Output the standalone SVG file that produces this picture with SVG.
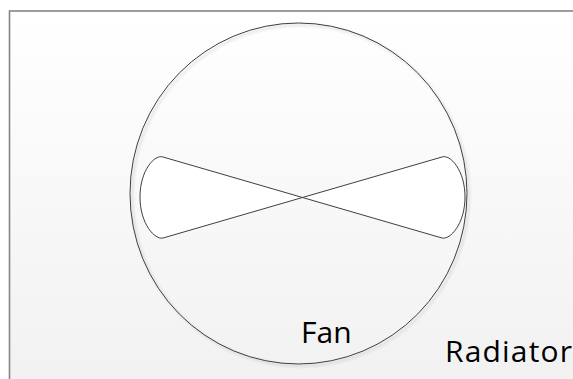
<svg xmlns="http://www.w3.org/2000/svg" width="573" height="379" viewBox="0 0 573 379">
<defs>
<linearGradient id="bg" x1="0" y1="0" x2="0" y2="1">
<stop offset="0" stop-color="#ffffff"/>
<stop offset="1" stop-color="#f1f1f1"/>
</linearGradient>
<filter id="sh" x="-10%" y="-10%" width="120%" height="120%">
<feGaussianBlur in="SourceAlpha" stdDeviation="1.5"/>
<feOffset dx="2" dy="2"/>
<feComponentTransfer><feFuncA type="linear" slope="0.25"/></feComponentTransfer>
<feMerge><feMergeNode/><feMergeNode in="SourceGraphic"/></feMerge>
</filter>
</defs>
<style>
.lbl{font-family:"Open Sans","Liberation Sans",Arial,sans-serif;font-size:30px;fill:#000}
.ln{fill:none;stroke:#3f3f3f;stroke-width:1}
</style>
<rect x="0" y="0" width="573" height="379" fill="#ffffff"/>
<g id="radiator">
<rect x="9.5" y="11" width="580" height="380" fill="url(#bg)" stroke="#858585" stroke-width="1.6"/>
<text class="lbl" x="445" y="362" textLength="127" lengthAdjust="spacing">Radiator</text>
</g>
<g id="fan">
<ellipse cx="298.5" cy="193.5" rx="168.5" ry="170.5" class="ln" filter="url(#sh)"/>
<path d="M163,157 L442,238 C450,240 465,224 465,197 C465,170 450,154 442,157 L163,238 C155,240 140,224 140,197 C140,170 155,154 163,157 Z" fill="#ffffff" stroke="#3f3f3f" stroke-width="1"/>
<text class="lbl" x="301" y="343">Fan</text>
</g>
<g id="connectors"/>
</svg>
